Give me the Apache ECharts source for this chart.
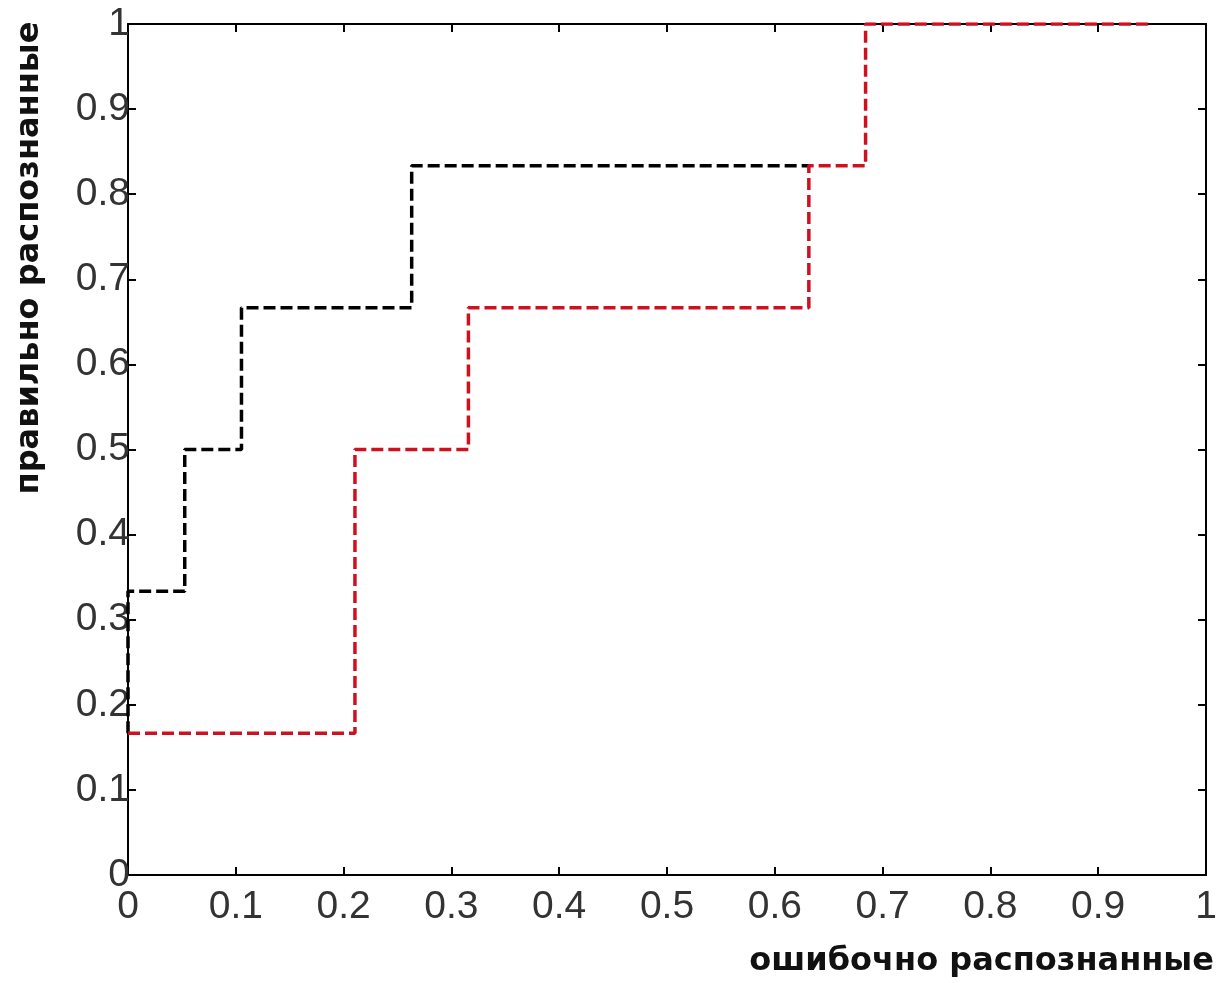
<!DOCTYPE html>
<html>
<head>
<meta charset="utf-8">
<script src="https://cdn.jsdelivr.net/npm/echarts@6/dist/echarts.min.js"></script>
<style>
  html, body { margin: 0; padding: 0; background: #fff; }
  #chart { width: 1222px; height: 983px; }
</style>
</head>
<body>
<div id="chart"></div>
<script>
// ROC step curves: false-positive rate (x) vs true-positive rate (y)
const xTicks = [0, 0.1, 0.2, 0.3, 0.4, 0.5, 0.6, 0.7, 0.8, 0.9, 1];
const yTicks = [0, 0.1, 0.2, 0.3, 0.4, 0.5, 0.6, 0.7, 0.8, 0.9, 1];

const blackX = [0, 0, 1/19, 1/19, 2/19, 2/19, 5/19, 5/19, 12/19];
const blackY = [1/6, 2/6, 2/6, 3/6, 3/6, 4/6, 4/6, 5/6, 5/6];

const redX = [0, 4/19, 4/19, 6/19, 6/19, 12/19, 12/19, 13/19, 13/19, 18/19];
const redY = [1/6, 1/6, 3/6, 3/6, 4/6, 4/6, 5/6, 5/6, 1, 1];

const xTitle = 'ошибочно распознанные';
const yTitle = 'правильно распознанные';

const pairs = (xs, ys) => xs.map((x, i) => [x, ys[i]]);
const fmt = v => (Math.abs(v) < 1e-9 ? '0' : Math.abs(v - 1) < 1e-9 ? '1' : v.toFixed(1));

const labelStyle = { color: '#333', fontFamily: 'Liberation Sans', fontSize: 39 };
const lineAxis = { onZero: false, lineStyle: { color: '#000', width: 2 } };
const ticksIn = { inside: true, length: 8, lineStyle: { color: '#000', width: 2 } };

const chart = echarts.init(document.getElementById('chart'));
chart.setOption({
  animation: false,
  backgroundColor: '#fff',
  grid: { left: 128, right: 16, top: 24, bottom: 108, containLabel: false },
  xAxis: [
    { type: 'value', min: 0, max: 1, interval: 0.1, position: 'bottom',
      axisLine: lineAxis, axisTick: ticksIn, splitLine: { show: false },
      axisLabel: Object.assign({ margin: 13, formatter: fmt }, labelStyle) },
    { type: 'value', min: 0, max: 1, interval: 0.1, position: 'top',
      axisLine: lineAxis, axisTick: ticksIn, splitLine: { show: false },
      axisLabel: { show: false } }
  ],
  yAxis: [
    { type: 'value', min: 0, max: 1, interval: 0.1, position: 'left',
      axisLine: lineAxis, axisTick: ticksIn, splitLine: { show: false },
      axisLabel: Object.assign({ margin: -2, formatter: fmt }, labelStyle) },
    { type: 'value', min: 0, max: 1, interval: 0.1, position: 'right',
      axisLine: lineAxis, axisTick: ticksIn, splitLine: { show: false },
      axisLabel: { show: false } }
  ],
  series: [
    { type: 'line', data: pairs(blackX, blackY), symbol: 'none', z: 3,
      lineStyle: { color: '#000', width: 3.5, type: [12, 5] } },
    { type: 'line', data: pairs(redX, redY), symbol: 'none', z: 4,
      lineStyle: { color: '#d0101e', width: 3.5, type: [12, 5] } }
  ],
  graphic: [
    { type: 'text', right: 8, top: 946,
      style: { text: xTitle, fill: '#111', font: 'bold 32px "DejaVu Sans"' } },
    { type: 'text', x: 30, y: 258, rotation: Math.PI / 2,
      style: { text: yTitle, fill: '#111', font: 'bold 32px "DejaVu Sans"', align: 'center', verticalAlign: 'middle' } }
  ]
});
</script>
</body>
</html>
